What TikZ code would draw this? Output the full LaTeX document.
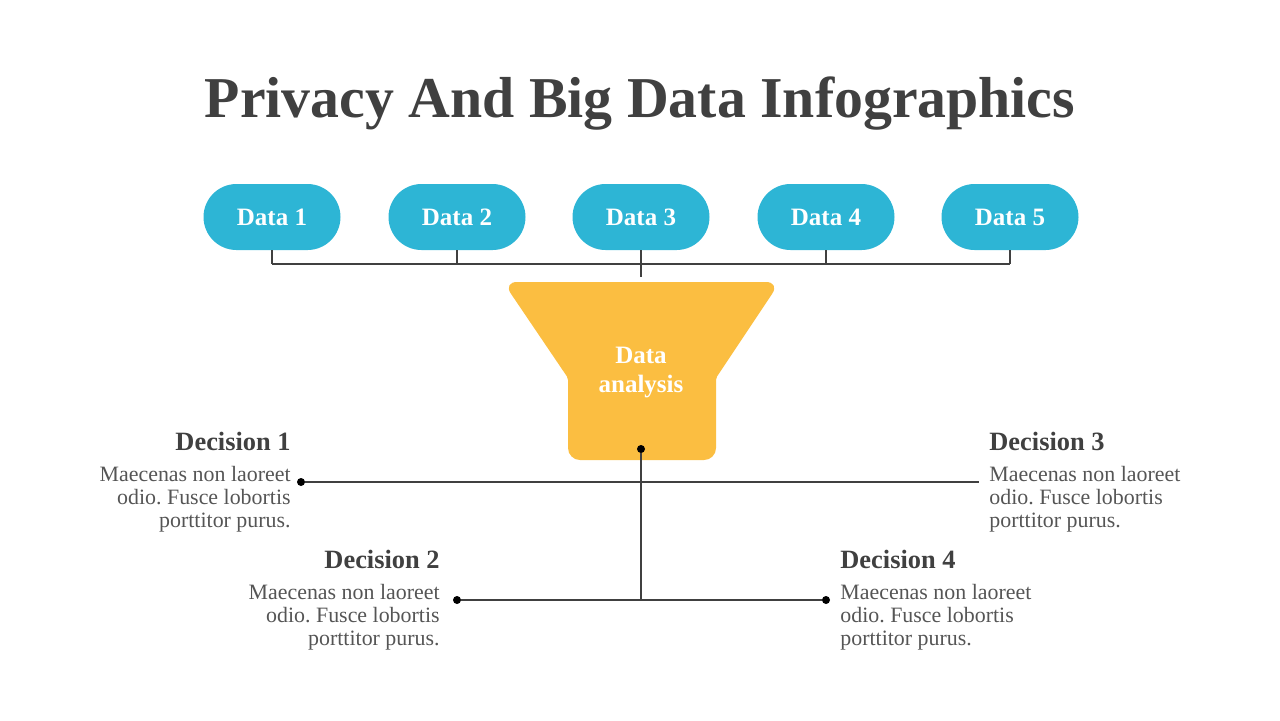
\documentclass[tikz,border=0pt]{standalone}
\usepackage{fontspec}
\setmainfont{Liberation Serif}
\usepackage{tikz}
\usetikzlibrary{calc,positioning}
\definecolor{ink}{RGB}{64,64,64}
\definecolor{txt}{RGB}{85,85,85}
\definecolor{sky}{RGB}{45,181,213}
\definecolor{amber}{RGB}{251,190,65}
\frenchspacing

\begin{document}
\begin{tikzpicture}[x=0.5pt,y=-0.5pt,
  pill/.style={fill=sky,rounded corners=16.5pt,minimum width=68.5pt,minimum height=33pt,
    text=white,font=\fontsize{12.5}{14}\selectfont\bfseries},
  wire/.style={ink,line width=0.6pt},
  dot/.style={circle,fill=black,inner sep=0pt,minimum size=4pt},
  dechead/.style={ink,font=\fontsize{13.2}{14}\selectfont\bfseries,inner sep=0pt},
  decbody/.style={txt,font=\fontsize{10.95}{11.5}\selectfont,inner sep=0pt}]
  \useasboundingbox (0,0) rectangle (1280,720);
  \node[ink,font=\fontsize{28.9}{32}\selectfont\bfseries] (title) at (640,104) {Privacy And Big Data Infographics};
  % data sources
  \foreach \i/\x in {1/272,2/457,3/641,4/826,5/1010}
    \node[pill] (d\i) at (\x,217) {Data \i};
  \coordinate (bus) at (641,264);
  \foreach \i in {1,...,5}
    \draw[wire] (d\i.south) -- (d\i.south |- bus);
  \draw[wire] (d1.south |- bus) -- (d5.south |- bus);
  % funnel
  \coordinate (ftop) at (641,277);
  \fill[amber] (641,282) [rounded corners=7pt] -- (780,282) [rounded corners=1pt] -- (716,378)
    [rounded corners=6pt] -- (716,460) -- (568,460) [rounded corners=1pt] -- (568,378)
    [rounded corners=7pt] -- (503,282) -- cycle;
  \node[white,align=center,font=\fontsize{12.5}{14.5}\selectfont\bfseries] (ana) at (641,372) {Data\\analysis};
  \draw[wire] (d3.south |- bus) -- (ftop);
  % decisions
  \node[dot] (hub) at (641,449) {};
  \node[dot] (p1) at (301,482) {};
  \coordinate (p3) at (979,482);
  \node[dot] (p2) at (457,600) {};
  \node[dot] (p4) at (826,600) {};
  \coordinate (low) at (641,600);
  \draw[wire] (hub) -- (low);
  \draw[wire] (p1) -- (p3);
  \draw[wire] (p2) -- (p4);
  \node[dechead,anchor=east] (dec1) at (291,441) {Decision 1};
  \node[decbody,anchor=north east,align=right] (txt1) at (291,466) {Maecenas non laoreet\\odio. Fusce lobortis\\porttitor purus.};
  \node[dechead,anchor=east] (dec2) at (440,559) {Decision 2};
  \node[decbody,anchor=north east,align=right] (txt2) at (440,584) {Maecenas non laoreet\\odio. Fusce lobortis\\porttitor purus.};
  \node[dechead,anchor=west] (dec3) at (989,441) {Decision 3};
  \node[decbody,anchor=north west,align=left] (txt3) at (989,466) {Maecenas non laoreet\\odio. Fusce lobortis\\porttitor purus.};
  \node[dechead,anchor=west] (dec4) at (840,559) {Decision 4};
  \node[decbody,anchor=north west,align=left] (txt4) at (840,584) {Maecenas non laoreet\\odio. Fusce lobortis\\porttitor purus.};
\end{tikzpicture}
\end{document}
